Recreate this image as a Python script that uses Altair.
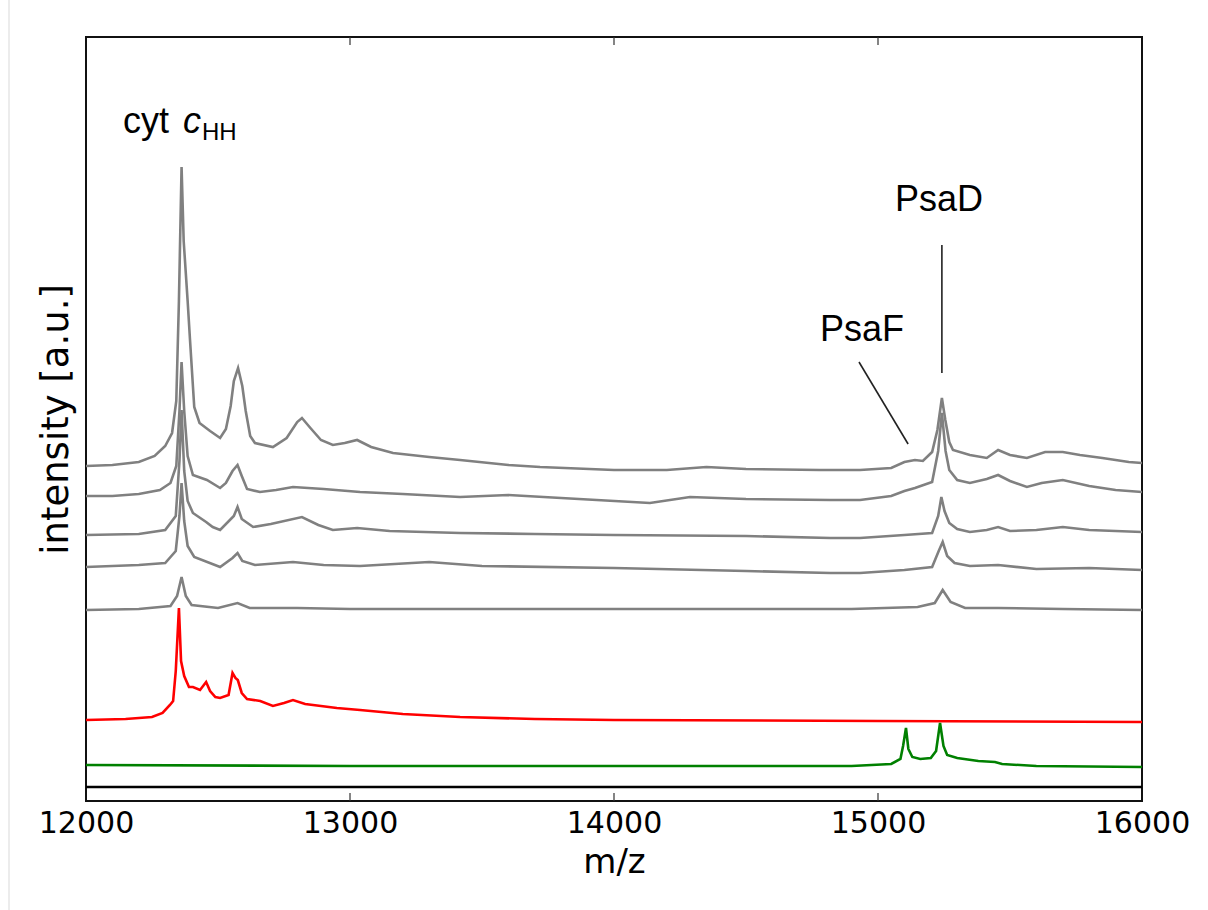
import altair as alt
import pandas as pd

# ---------------- data (m/z, intensity in a.u.; traces are vertically offset) ----------------
g1_mz = [12000, 12100, 12200, 12260, 12300, 12326, 12342, 12352, 12362, 12370, 12385, 12394, 12410, 12430,
         12470, 12508, 12530, 12548, 12560, 12576, 12592, 12605, 12622, 12640, 12708, 12760, 12800, 12818,
         12850, 12890, 12935, 12980, 13027, 13080, 13163, 13300, 13417, 13600, 13720, 14000, 14200, 14350,
         14500, 14780, 14932, 15050, 15100, 15140, 15170, 15205, 15225, 15242, 15255, 15270, 15284, 15348,
         15412, 15455, 15500, 15564, 15633, 15700, 15765, 15850, 15950, 16000]
g1_val = [335, 336, 339, 345, 355, 368, 400, 500, 634, 560, 500, 461, 394, 378,
          370, 363, 372, 395, 420, 433, 415, 390, 365, 358, 354, 363, 379, 383,
          373, 361, 356, 358, 361, 354, 348, 344, 341, 336, 334, 331, 331, 334,
          332, 331, 331, 333, 339, 341, 340, 349, 371, 403, 381, 359, 351, 346,
          343, 351, 346, 343, 349, 349, 346, 343, 339, 338]

g2_mz = [12000, 12100, 12200, 12280, 12320, 12342, 12354, 12362, 12372, 12385, 12405, 12458, 12508, 12530,
         12555, 12574, 12590, 12610, 12659, 12720, 12784, 12900, 13038, 13200, 13417, 13600, 13800, 14136,
         14288, 14500, 14820, 14932, 15050, 15100, 15140, 15205, 15228, 15242, 15256, 15270, 15300, 15348,
         15412, 15455, 15500, 15564, 15620, 15700, 15800, 15900, 16000]
g2_val = [305, 305, 307, 311, 318, 335, 390, 439, 390, 345, 326, 321, 313, 318,
          330, 336, 325, 312, 309, 311, 314, 312, 309, 307, 304, 306, 303, 298,
          304, 302, 301, 301, 305, 310, 313, 319, 350, 388, 350, 331, 321, 318,
          322, 326, 320, 314, 318, 321, 315, 311, 309]

g3_mz = [12000, 12200, 12300, 12340, 12354, 12362, 12372, 12385, 12405, 12455, 12480, 12508, 12560, 12574,
         12590, 12633, 12700, 12818, 12880, 12935, 13027, 13150, 13417, 13700, 14000, 14500, 14820, 14932,
         15100, 15205, 15228, 15240, 15252, 15270, 15300, 15348, 15412, 15455, 15500, 15600, 15700, 15800,
         15900, 16000]
g3_val = [266, 267, 271, 285, 340, 391, 330, 300, 288, 279, 274, 271, 285, 294,
          282, 274, 277, 284, 276, 271, 273, 270, 268, 267, 266, 265, 263, 263,
          266, 268, 285, 304, 290, 278, 272, 269, 271, 274, 270, 271, 274, 271,
          270, 269]

g4_mz = [12000, 12200, 12300, 12340, 12354, 12362, 12372, 12385, 12410, 12508, 12555, 12574, 12592, 12640,
         12784, 12900, 13038, 13300, 13500, 14000, 14500, 14820, 14932, 15100, 15205, 15230, 15245, 15262,
         15290, 15348, 15455, 15600, 15800, 16000]
g4_val = [234, 236, 238, 250, 285, 318, 280, 255, 244, 234, 243, 248, 240, 236,
          239, 236, 235, 239, 235, 233, 230, 228, 228, 231, 234, 250, 259, 245,
          238, 235, 236, 232, 233, 231]

g5_mz = [12000, 12200, 12320, 12345, 12362, 12378, 12400, 12500, 12574, 12620, 12800, 13000, 14000, 14900,
         15150, 15215, 15245, 15275, 15330, 15455, 15700, 16000]
g5_val = [191, 192, 195, 205, 224, 205, 196, 193, 198, 193, 193, 192, 192, 192,
          194, 198, 211, 199, 193, 193, 192, 191]

red_mz = [12000, 12150, 12250, 12290, 12318, 12330, 12340, 12352, 12360, 12372, 12390, 12405, 12432, 12455,
          12470, 12490, 12508, 12540, 12555, 12566, 12575, 12590, 12610, 12660, 12708, 12750, 12784, 12830,
          12860, 12950, 13038, 13200, 13417, 13700, 14000, 15000, 16000]
red_val = [81, 82, 84, 88, 96, 100, 130, 193, 140, 125, 114, 114, 111, 119,
           110, 104, 103, 106, 128, 123, 121, 108, 102, 100, 95, 98, 101, 97,
           96, 93, 91, 87, 84, 82, 81, 80, 79]

green_mz = [12000, 13000, 14000, 14900, 15050, 15085, 15095, 15106, 15115, 15130, 15160, 15200, 15220, 15235,
            15248, 15262, 15300, 15380, 15443, 15470, 15600, 16000]
green_val = [36, 35, 35, 35, 37, 42, 55, 73, 52, 44, 42, 43, 50, 78,
             55, 46, 43, 40, 39, 37, 35, 34]

black_mz = [12000, 16000]
black_val = [14, 14]

trace_names = ["g1", "g2", "g3", "g4", "g5", "red", "green", "black"]
trace_colors = ["#808080", "#808080", "#808080", "#808080", "#808080", "#ff0000", "#008000", "#000000"]
trace_widths = [2.6, 2.6, 2.6, 2.6, 2.4, 2.0, 2.0, 1.6]

x_ticks = [12000, 13000, 14000, 15000, 16000]
x_inner_ticks = [13000, 14000, 15000]

# annotation lines (m/z, a.u.)
ann_lines = pd.DataFrame({
    "x": [15242, 14928],
    "x2": [15242, 15114],
    "y": [556, 439],
    "y2": [428, 357],
})

# ---------------- build ----------------
series = [(g1_mz, g1_val), (g2_mz, g2_val), (g3_mz, g3_val), (g4_mz, g4_val), (g5_mz, g5_val),
          (red_mz, red_val), (green_mz, green_val), (black_mz, black_val)]
rows = []
for name, (mz, val) in zip(trace_names, series):
    for m, v in zip(mz, val):
        rows.append({"mz": m, "val": v, "trace": name})
df = pd.DataFrame(rows)

FONT = "DejaVu Sans"
xscale = alt.Scale(domain=[12000, 16000], nice=False, zero=False)
yscale = alt.Scale(domain=[0, 764], nice=False, zero=False)
x_axis = alt.Axis(values=x_ticks, format="d", labelFlush=False, ticks=False, domain=False,
                  grid=False, labelFontSize=30, labelFont=FONT, labelColor="black",
                  labelPadding=7, titleFontSize=34, titleFont=FONT, titleFontWeight="normal",
                  titleColor="black", titlePadding=7)
y_axis = alt.Axis(labels=False, ticks=False, domain=False, grid=False,
                  titleFontSize=37, titleFont=FONT, titleFontWeight="normal",
                  titleColor="black", titlePadding=11)


def X(field):
    return alt.X(field, scale=xscale, title="m/z", axis=x_axis)


def Y(field):
    return alt.Y(field, scale=yscale, title="intensity [a.u.]", axis=y_axis)


spectra = alt.Chart(df).mark_line(interpolate="linear").encode(
    x=X("mz:Q"),
    y=Y("val:Q"),
    color=alt.Color("trace:N", scale=alt.Scale(domain=trace_names, range=trace_colors), legend=None),
    strokeWidth=alt.StrokeWidth("trace:N", scale=alt.Scale(domain=trace_names, range=trace_widths),
                                legend=None),
    detail="trace:N",
)

ann = alt.Chart(ann_lines).mark_rule(color="#222222", strokeWidth=1.6).encode(
    x=X("x:Q"), x2="x2:Q", y=Y("y:Q"), y2="y2:Q",
)

tick_df = pd.DataFrame({"x": x_inner_ticks * 2,
                        "y": [0] * 3 + [756] * 3,
                        "y2": [8] * 3 + [764] * 3})
ticks = alt.Chart(tick_df).mark_rule(color="#333333", strokeWidth=1.2).encode(
    x=X("x:Q"), y=Y("y:Q"), y2="y2:Q",
)

TFONT = "Liberation Sans"
lab_center = pd.DataFrame({"x": [15231, 14939], "y": [590, 460], "t": ["PsaD", "PsaF"]})
labels_c = alt.Chart(lab_center).mark_text(font=TFONT, fontSize=36, align="center",
                                             baseline="alphabetic", color="black").encode(
    x=X("x:Q"), y=Y("y:Q"), text="t:N")

cyt_df = pd.DataFrame({"x": [12140], "y": [668], "t": ["cyt"]})
cyt = alt.Chart(cyt_df).mark_text(font=TFONT, fontSize=36, align="left",
                                  baseline="alphabetic", color="black").encode(
    x=X("x:Q"), y=Y("y:Q"), text="t:N")

c_df = pd.DataFrame({"x": [12367], "y": [668], "t": ["c"]})
c_it = alt.Chart(c_df).mark_text(font=TFONT, fontSize=36, fontStyle="italic", align="left",
                                 baseline="alphabetic", color="black").encode(
    x=X("x:Q"), y=Y("y:Q"), text="t:N")

hh_df = pd.DataFrame({"x": [12439], "y": [661], "t": ["HH"]})
hh = alt.Chart(hh_df).mark_text(font=TFONT, fontSize=24, align="left",
                                baseline="alphabetic", color="black").encode(
    x=X("x:Q"), y=Y("y:Q"), text="t:N")

border = alt.Chart(pd.DataFrame({"a": [0]})).mark_rule(color="#e6e6e6", strokeWidth=1.5).encode(
    x=alt.value(-77), y=alt.value(-37), y2=alt.value(873))

chart = alt.layer(spectra, ann, ticks, labels_c, cyt, c_it, hh, border).properties(
    width=1056, height=764,
    background="white",
    autosize=alt.AutoSizeParams(type="none"),
    padding={"left": 86, "top": 37, "right": 66, "bottom": 109},
).configure_view(stroke="#111111", strokeWidth=2)

chart.save("out.html", embed_options={"renderer": "svg", "actions": False})
